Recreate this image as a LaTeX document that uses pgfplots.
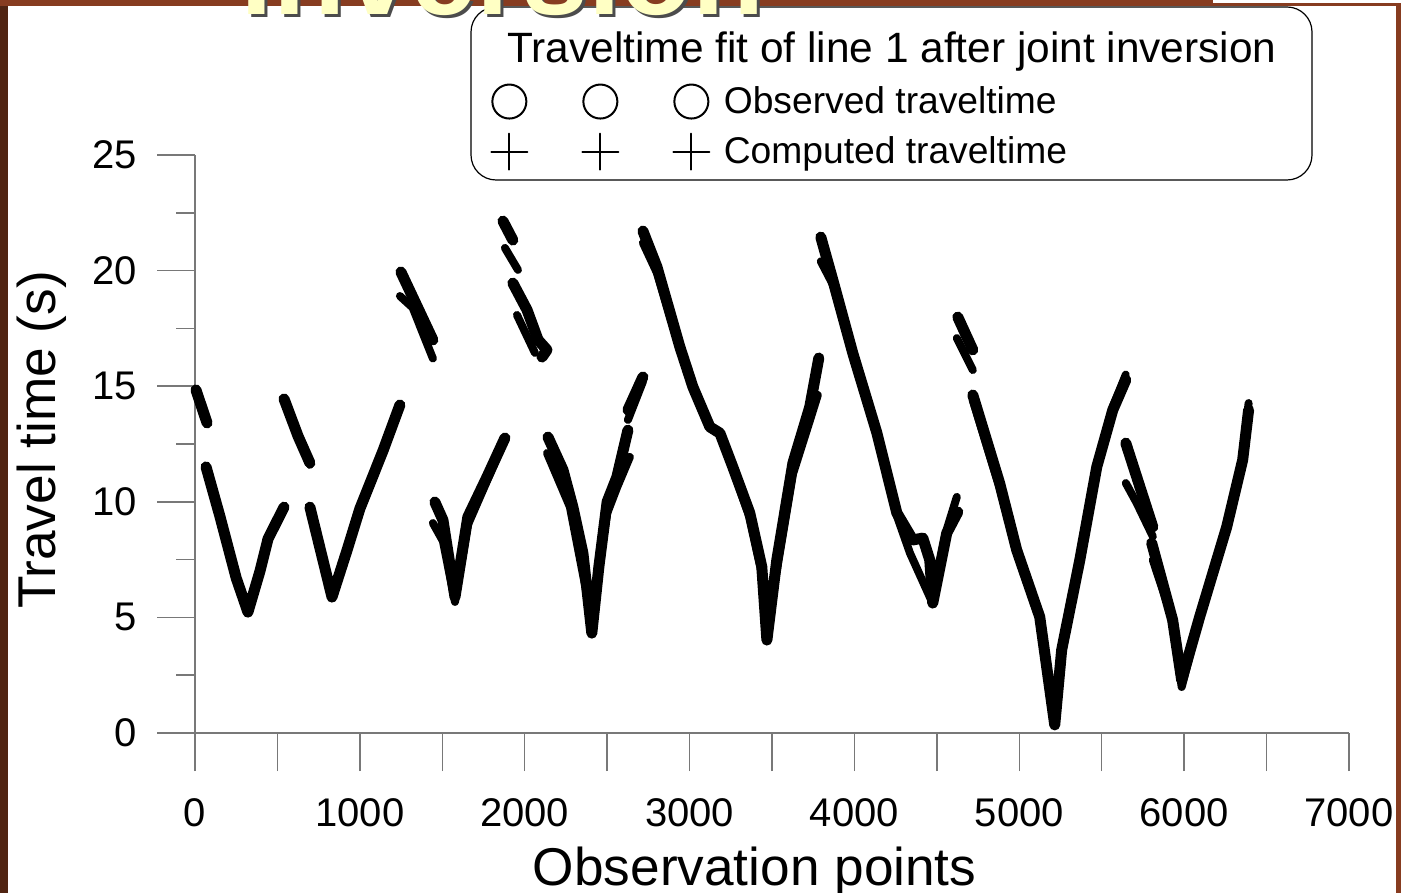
\documentclass[border=0pt]{standalone}
\usepackage{fontspec}
\setmainfont{Liberation Sans}
\usepackage{pgfplots}
\pgfplotsset{compat=1.18}

\definecolor{slidebrown}{RGB}{135,60,32}
\definecolor{slidedark}{RGB}{80,36,18}
\definecolor{titleyellow}{RGB}{255,255,196}
\definecolor{axisgray}{RGB}{120,120,120}

\begin{document}
\begin{tikzpicture}
\useasboundingbox (0,0) rectangle (700.5pt,446.5pt);
\fill[white] (0,0) rectangle (700.5pt,446.5pt);
% slide frame
\fill[slidedark] (0,0) rectangle (4pt,446.5pt);
\fill[slidebrown] (0,443.5pt) rectangle (606.5pt,446.5pt);
\fill[slidebrown] (606.5pt,443.5pt) rectangle (698.5pt,445pt);
\fill[slidebrown] (698pt,0) rectangle (700.5pt,445pt);

% legend frame and heading
\draw[black, line width=0.6pt, rounded corners=12.5pt, fill=white]
  (235.5pt,356.5pt) rectangle (656pt,443pt);
\node[anchor=base, inner sep=0pt, font=\fontsize{21.2}{25}\selectfont]
  at (446pt,415pt) {Traveltime fit of line 1 after joint inversion};

\begin{axis}[
  at={(97.5pt,80pt)}, anchor=south west,
  scale only axis, width=577pt, height=289pt,
  xmin=0, xmax=7000, ymin=0, ymax=25,
  axis x line=bottom, axis y line=left,
  axis line style={axisgray, line width=0.75pt, -},
  tick style={axisgray, line width=0.75pt},
  tick align=outside,
  major tick length=19pt, minor tick length=9.5pt,
  xtick={0,500,...,7000},
  xticklabels={0,,1000,,2000,,3000,,4000,,5000,,6000,,7000},
  ytick={0,5,...,25},
  minor ytick={2.5,7.5,...,22.5},
  scaled x ticks=false,
  ticklabel style={font=\fontsize{20}{24}\selectfont, /pgf/number format/assume math mode=true},
  yticklabel style={anchor=east, xshift=-6.5pt},
  xticklabel style={anchor=north, yshift=-10pt},
  xlabel={Observation points},
  ylabel={Travel time (s)},
  label style={font=\fontsize{26.6}{30}\selectfont},
  xlabel style={at={(axis description cs:0.485,-0.263)}, anchor=base},
  ylabel style={at={(axis description cs:-0.1205,0.507)}, anchor=base},
  unbounded coords=jump,
  clip=false,
  legend style={at={(axis description cs:0.2556,1.126)}, anchor=north west,
    draw=none, fill=none, inner sep=0pt,
    font=\fontsize{18.6}{22}\selectfont, row sep=6pt},
  legend cell align=left,
]

% observed traveltimes
\addplot[black, line width=5.5pt, line cap=round, line join=round,
  legend image code/.code={
    \draw[black, line width=1pt, solid] (0pt,0pt) circle[radius=8.5pt]
      (45.5pt,0pt) circle[radius=8.5pt] (91pt,0pt) circle[radius=8.5pt];
    \path (102.5pt,0pt);}]
coordinates {
(6,14.84) (73,13.41) (73,nan)
(67,11.51) (150,9.4) (250,6.7) (321,5.23) (394,7.0) (443,8.4) (540,9.77) (540,nan)
(540,14.45) (625,12.84) (697,11.68) (697,nan)
(697,9.77) (831,5.88) (922,7.9) (1000,9.7) (1140,12.2) (1243,14.19) (1243,nan)
(1249,19.94) (1443,17.0) (1443,nan)
(1455,9.99) (1504,9.21) (1577,5.88) (1655,9.34) (1771,11.07) (1880,12.76) (1880,nan)
(1868,22.14) (1928,21.32) (1928,nan)
(1928,19.46) (2014,18.3) (2081,17.0) (2135,16.57) (2105,16.26) (2105,nan)
(2141,12.80) (2232,11.38) (2292,9.78) (2353,7.78) (2407,4.32) (2450,7.2) (2500,10.0) (2559,11.07) (2626,13.10) (2626,nan)
(2626,13.97) (2717,15.40) (2717,nan)
(2717,21.71) (2802,20.16) (2941,16.70) (3020,14.97) (3123,13.24) (3184,12.97) (3262,11.51) (3365,9.52) (3438,7.19) (3469,4.02) (3529,7.48) (3627,11.68) (3729,14.10) (3784,16.22) (3784,nan)
(3796,21.45) (3869,19.59) (3990,16.43) (4136,12.98) (4257,9.52) (4354,8.35) (4415,8.43) (4457,7.48) (4475,5.62) (4560,8.65) (4627,9.56) (4627,nan)
(4627,17.99) (4718,16.57) (4718,nan)
(4718,14.62) (4881,10.8) (4984,7.92) (5124,5.02) (5215,0.35) (5257,3.59) (5367,7.48) (5470,11.51) (5567,13.97) (5646,15.27) (5646,nan)
(5646,12.54) (5810,8.91) (5810,nan)
(5803,8.22) (5930,4.89) (5985,2.29) (6094,5.02) (6258,8.91) (6355,11.81) (6391,13.97)
};
\addlegendentry{Observed traveltime}

% computed traveltimes
\addplot[black, line width=4pt, line cap=round, line join=round,
  legend image code/.code={
    \draw[black, line width=1pt, solid]
      (-9pt,0pt) -- (9pt,0pt) (0pt,-9pt) -- (0pt,9pt)
      (36.5pt,0pt) -- (54.5pt,0pt) (45.5pt,-9pt) -- (45.5pt,9pt)
      (82pt,0pt) -- (100pt,0pt) (91pt,-9pt) -- (91pt,9pt);
    \path (102.5pt,0pt);}]
coordinates {
(6,14.8) (73,13.4) (73,nan)
(67,11.4) (150,9.3) (250,6.6) (321,5.3) (394,6.9) (443,8.3) (540,9.7) (540,nan)
(540,14.4) (625,12.8) (697,11.6) (697,nan)
(697,9.7) (831,6.0) (922,7.8) (1000,9.6) (1140,12.1) (1243,14.1) (1243,nan)
(1243,18.9) (1320,18.4) (1443,16.2) (1443,nan)
(1443,9.08) (1504,8.3) (1577,5.67) (1655,9.0) (1771,10.9) (1880,12.7) (1880,nan)
(1880,20.98) (1959,20.03) (1959,nan)
(1953,18.08) (2062,16.44) (2062,nan)
(2135,12.11) (2274,9.78) (2395,5.32) (2445,7.0) (2500,9.5) (2559,10.6) (2638,11.94) (2638,nan)
(2626,13.54) (2717,15.2) (2717,nan)
(2717,21.2) (2802,19.9) (2941,16.6) (3020,14.9) (3123,13.2) (3184,12.9) (3262,11.4) (3365,9.3) (3438,6.9) (3469,5.0) (3529,7.0) (3627,11.2) (3729,13.5) (3778,14.62) (3778,nan)
(3796,20.4) (3869,19.4) (3990,16.3) (4136,12.9) (4257,9.4) (4337,7.78) (4475,5.6) (4560,8.8) (4621,10.21) (4621,nan)
(4621,17.08) (4718,15.70) (4718,nan)
(4718,14.4) (4881,10.6) (4984,7.8) (5124,4.9) (5215,0.6) (5257,3.5) (5367,7.4) (5470,11.6) (5567,14.1) (5646,15.5) (5646,nan)
(5646,10.81) (5712,9.95) (5810,8.5) (5810,nan)
(5810,7.48) (5930,4.9) (5985,1.99) (6094,5.0) (6258,8.9) (6355,11.9) (6391,14.27)
};
\addlegendentry{Computed traveltime}

% y axis line continues down to the end of the x ticks
\draw[axisgray, line width=0.75pt] (axis cs:0,0) -- ++(0pt,-19pt);
\end{axis}

% slide heading showing above the chart
\node[anchor=base west, inner sep=0pt, font=\fontsize{59}{60}\bfseries\selectfont, text=black!70]
  at (121.5pt,437.5pt) {inversion};
\node[anchor=base west, inner sep=0pt, font=\fontsize{59}{60}\bfseries\selectfont, text=titleyellow]
  at (120pt,439pt) {inversion};
\end{tikzpicture}
\end{document}
